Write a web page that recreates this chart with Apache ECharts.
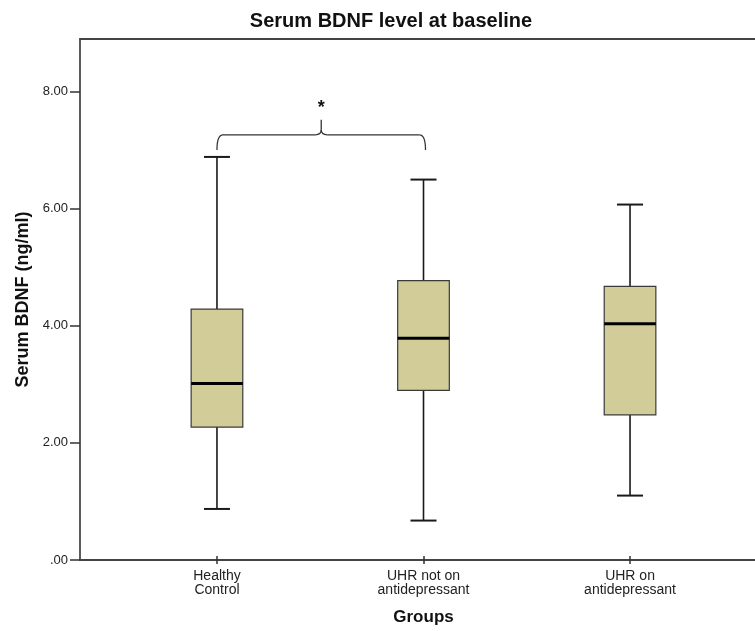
<!DOCTYPE html>
<html>
<head>
<meta charset="utf-8">
<script src="https://cdn.jsdelivr.net/npm/echarts@6/dist/echarts.min.js"></script>
<style>
html,body{margin:0;padding:0;background:#fff;}
#chart{width:755px;height:631px;}
</style>
</head>
<body>
<div id="chart"></div>
<script>
// ---- data ----
const categories = ['Healthy\nControl', 'UHR not on\nantidepressant', 'UHR on\nantidepressant'];
const whiskerLow = [0.81, 0.61, 1.04];
const q1 = [2.22, 2.85, 2.43];
const median = [2.97, 3.75, 4.00];
const q3 = [4.25, 4.74, 4.64];
const whiskerHigh = [6.87, 6.48, 6.05];
const yTickValues = [0, 2, 4, 6, 8];
const yMin = 0, yMax = 8.9;
// significance bracket between group 0 and group 1
const bracketGroups = [0, 1];
const bracketLevel = 7.25;
const bracketEndLevel = 6.99;
const bracketPeakLevel = 7.51;
const starLevel = 7.72;
const starText = '*';

const FONT = '"Liberation Sans", Arial, sans-serif';
const boxData = categories.map((c, i) => [i, whiskerLow[i], q1[i], median[i], q3[i], whiskerHigh[i]]);

const chart = echarts.init(document.getElementById('chart'), null, {renderer: 'canvas'});

function renderBox(params, api) {
  const i = api.value(0);
  const lo = api.coord([i, api.value(1)]);
  const b1 = api.coord([i, api.value(2)]);
  const md = api.coord([i, api.value(3)]);
  const b3 = api.coord([i, api.value(4)]);
  const hi = api.coord([i, api.value(5)]);
  const band = api.size([1, 0])[0];
  const half = band * 0.125;
  const cap = band * 0.063;
  const x = lo[0];
  const lineStyle = {stroke: '#1a1a1a', lineWidth: 1.6};
  return {
    type: 'group',
    children: [
      {type: 'line', shape: {x1: x, y1: lo[1], x2: x, y2: b1[1]}, style: lineStyle},
      {type: 'line', shape: {x1: x, y1: b3[1], x2: x, y2: hi[1]}, style: lineStyle},
      {type: 'line', shape: {x1: x - cap, y1: lo[1], x2: x + cap, y2: lo[1]}, style: {stroke: '#1a1a1a', lineWidth: 2}},
      {type: 'line', shape: {x1: x - cap, y1: hi[1], x2: x + cap, y2: hi[1]}, style: {stroke: '#1a1a1a', lineWidth: 2}},
      {type: 'rect', shape: {x: x - half, y: b3[1], width: half * 2, height: b1[1] - b3[1]},
        style: {fill: '#d2cd98', stroke: '#3a3a3a', lineWidth: 1.2}},
      {type: 'line', shape: {x1: x - half, y1: md[1], x2: x + half, y2: md[1]}, style: {stroke: '#000', lineWidth: 3}}
    ]
  };
}

function renderBracket(params, api) {
  const a = api.coord([api.value(0), api.value(2)]);
  const b = api.coord([api.value(1), api.value(2)]);
  const endY = api.coord([api.value(0), api.value(3)])[1];
  const peakY = api.coord([api.value(0), api.value(4)])[1];
  const starY = api.coord([api.value(0), api.value(5)])[1];
  const y = a[1];
  const x0 = a[0], x1 = b[0] + 2, xm = (x0 + x1) / 2;
  const r = 6;
  const st = {stroke: '#333', lineWidth: 1.3, fill: null};
  return {
    type: 'group',
    children: [
      {type: 'bezierCurve', shape: {x1: x0, y1: endY, x2: x0 + r, y2: y, cpx1: x0, cpy1: y}, style: st},
      {type: 'line', shape: {x1: x0 + r, y1: y, x2: xm - r, y2: y}, style: st},
      {type: 'bezierCurve', shape: {x1: xm - r, y1: y, x2: xm, y2: y - 5, cpx1: xm, cpy1: y}, style: st},
      {type: 'line', shape: {x1: xm, y1: y - 5, x2: xm, y2: peakY}, style: st},
      {type: 'bezierCurve', shape: {x1: xm + r, y1: y, x2: xm, y2: y - 5, cpx1: xm, cpy1: y}, style: st},
      {type: 'line', shape: {x1: xm + r, y1: y, x2: x1 - r, y2: y}, style: st},
      {type: 'bezierCurve', shape: {x1: x1 - r, y1: y, x2: x1, y2: endY, cpx1: x1, cpy1: y}, style: st},
      {type: 'text', x: xm, y: starY, style: {text: starText, fill: '#111',
        font: 'bold 18px ' + FONT, textAlign: 'center', textVerticalAlign: 'middle'}}
    ]
  };
}

const option = {
  animation: false,
  backgroundColor: '#fff',
  title: {
    text: 'Serum BDNF level at baseline',
    left: 386, top: 6, textAlign: 'center',
    textStyle: {fontFamily: FONT, fontSize: 20, fontWeight: 'bold', color: '#111'}
  },
  grid: [
    {left: 80, right: 0, top: 39, bottom: 71, containLabel: false},
    {left: 113.7, right: 21.7, top: 39, bottom: 71, containLabel: false}
  ],
  xAxis: [
    {gridIndex: 0, type: 'value', min: 0, max: 1, position: 'bottom',
      axisLine: {show: true, lineStyle: {color: '#444', width: 2}},
      axisTick: {show: false}, axisLabel: {show: false}, splitLine: {show: false}},
    {gridIndex: 0, type: 'value', min: 0, max: 1, position: 'top',
      axisLine: {show: true, lineStyle: {color: '#444', width: 2}},
      axisTick: {show: false}, axisLabel: {show: false}, splitLine: {show: false}},
    {gridIndex: 1, type: 'category', data: categories, boundaryGap: true, position: 'bottom',
      axisLine: {show: false},
      axisTick: {show: true, alignWithLabel: true, length: 8, lineStyle: {color: '#333', width: 1.5}},
      axisLabel: {fontFamily: FONT, fontSize: 14, color: '#222', lineHeight: 14, margin: 13},
      name: 'Groups', nameLocation: 'middle', nameGap: 53,
      nameTextStyle: {fontFamily: FONT, fontSize: 17, fontWeight: 'bold', color: '#111'},
      splitLine: {show: false}}
  ],
  yAxis: [
    {gridIndex: 0, type: 'value', min: yMin, max: yMax, interval: 2,
      axisLine: {show: true, lineStyle: {color: '#333', width: 1.6}},
      axisTick: {show: true, length: 10, customValues: yTickValues, lineStyle: {color: '#333', width: 1.5}},
      axisLabel: {customValues: yTickValues, fontFamily: FONT, fontSize: 13, color: '#222', margin: 12,
        formatter: v => v === 0 ? '.00' : v.toFixed(2)},
      splitLine: {show: false},
      name: 'Serum BDNF (ng/ml)', nameLocation: 'middle', nameGap: 46, nameRotate: 90,
      nameTextStyle: {fontFamily: FONT, fontSize: 18, fontWeight: 'bold', color: '#111'}},
    {gridIndex: 1, type: 'value', min: yMin, max: yMax, show: false, splitLine: {show: false}}
  ],
  series: [
    {type: 'custom', xAxisIndex: 2, yAxisIndex: 1, renderItem: renderBox,
      encode: {x: 0, y: [1, 2, 3, 4, 5]}, data: boxData, silent: true},
    {type: 'custom', xAxisIndex: 2, yAxisIndex: 1, renderItem: renderBracket,
      encode: {x: [0, 1], y: [2, 3, 4, 5]},
      data: [[bracketGroups[0], bracketGroups[1], bracketLevel, bracketEndLevel, bracketPeakLevel, starLevel]],
      silent: true, clip: false}
  ]
};
chart.setOption(option);
</script>
</body>
</html>
